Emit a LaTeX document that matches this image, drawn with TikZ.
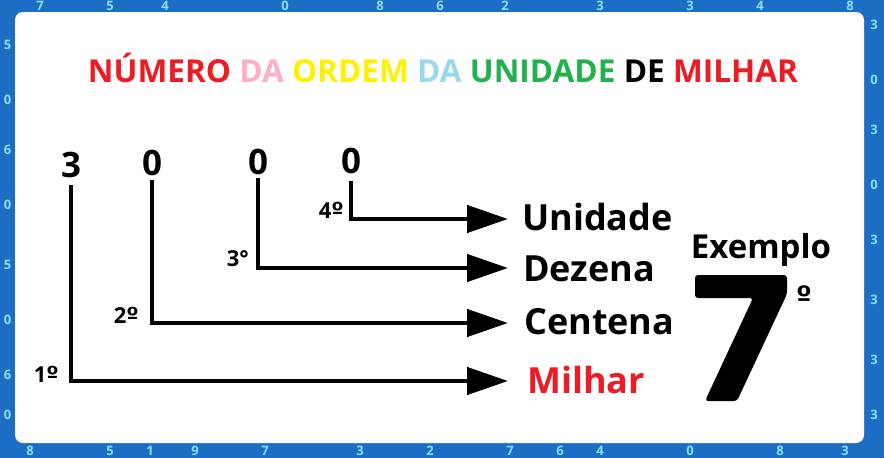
\documentclass[tikz,border=0pt]{standalone}
\usepackage{fontspec}
\setmainfont{Open Sans}
\newfontfamily\ordfont{DejaVu Sans}
\usetikzlibrary{arrows.meta}
\definecolor{bgblue}{RGB}{28,110,196}
\definecolor{numcyan}{RGB}{140,222,240}
\definecolor{tred}{RGB}{237,28,36}
\definecolor{tpink}{RGB}{255,174,201}
\definecolor{tyellow}{RGB}{255,242,0}
\definecolor{tblue}{RGB}{153,217,234}
\definecolor{tgreen}{RGB}{34,177,76}
\newcommand{\ordm}{{\ordfont\bfseries º}}
\tikzset{
  bgnum/.style={text=numcyan,font=\fontsize{13}{13}\selectfont\bfseries,inner sep=0pt},
  digit/.style={font=\fontsize{35}{35}\selectfont\bfseries,inner sep=0pt,anchor=base},
  lbl/.style={font=\fontsize{36}{36}\selectfont\bfseries,inner sep=0pt,anchor=base west},
  ord/.style={font=\fontsize{22}{22}\selectfont\bfseries,inner sep=0pt,anchor=base east},
  conn/.style={line width=4.5pt,-{Triangle[length=41pt,width=27pt]}}
}
\begin{document}
\begin{tikzpicture}[x=1pt,y=-1pt]
\useasboundingbox (0,0) rectangle (884,458);
\fill[bgblue] (0,0) rectangle (884,458);
\foreach \x/\d in {40/7,110/5,165/4,285/0,380/8,440/6,505/2,600/3,690/3,760/4,850/8}
  \node[bgnum] (bt\x) at (\x,6) {\d};
\foreach \x/\d in {30/8,110/5,150/1,195/9,265/7,360/3,430/2,510/7,560/6,600/4,690/0,780/8,845/3}
  \node[bgnum] (bb\x) at (\x,450.5) {\d};
\foreach \y/\d in {45/5,100/0,150/6,205/0,265/5,320/0,375/6,415/0}
  \node[bgnum] (bl\y) at (7.5,\y) {\d};
\foreach \y/\d in {25/3,80/0,130/3,185/0,240/3,300/3,360/3,415/3}
  \node[bgnum] (br\y) at (874,\y) {\d};
\fill[white,rounded corners=8pt] (15,12) rectangle (864,443);

\node[font=\fontsize{31.6}{31.6}\selectfont\bfseries,inner sep=0pt,anchor=base] (title) at (443,82)
 {\textcolor{tred}{NÚMERO} \textcolor{tpink}{DA} \textcolor{tyellow}{ORDEM} \textcolor{tblue}{DA} \textcolor{tgreen}{UNIDADE} \textcolor{black}{DE} \textcolor{tred}{MILHAR}};

\node[digit] (d1) at (71,177) {3};
\node[digit] (d2) at (152,175) {0};
\node[digit] (d3) at (258,174) {0};
\node[digit] (d4) at (351,173) {0};

\node[lbl] (lu) at (522,230) {Unidade};
\node[lbl] (ld) at (523,281) {Dezena};
\node[lbl] (lc) at (524,334) {Centena};
\node[lbl,text=tred] (lm) at (527,393) {Milhar};

\coordinate (e4) at (508,219);
\coordinate (e3) at (508,268);
\coordinate (e2) at (508,323);
\coordinate (e1) at (508,381);

\draw[conn] (d4.south |- 0,181) |- (e4);
\draw[conn] (d3.south |- 0,178) |- (e3);
\draw[conn] (d2.south |- 0,180) |- (e2);
\draw[conn] (d1.south |- 0,185) |- (e1);

\node[ord] (o4) at (344,218) {4\ordm};
\node[ord] (o3) at (249,266) {3°};
\node[ord] (o2) at (139,323) {2\ordm};
\node[ord] (o1) at (59,382) {1\ordm};

\node[font=\fontsize{33}{33}\selectfont\bfseries,inner sep=0pt,anchor=base] (ex) at (761,258) {Exemplo};
\fill[black,rounded corners=3pt] (695,275) -- (787,275) -- (787,294) -- (737,401) -- (705,401) -- (753,298) -- (695,298) -- cycle;
\node[font=\fontsize{28}{28}\selectfont\ordfont\bfseries,inner sep=0pt,anchor=base] (deg) at (804,306) {º};
\end{tikzpicture}
\end{document}
